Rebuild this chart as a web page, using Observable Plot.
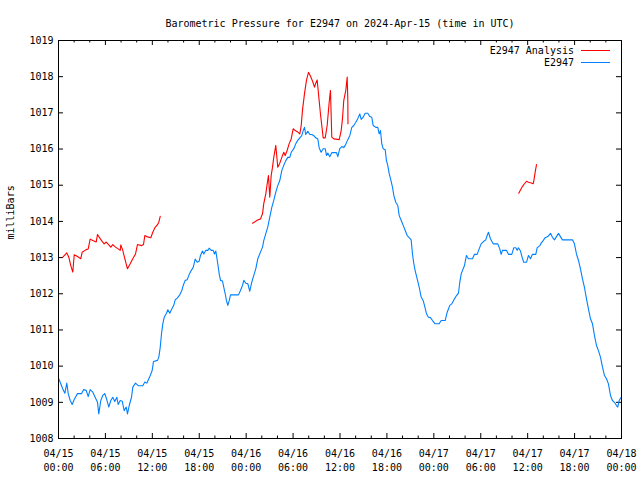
<!DOCTYPE html>
<html>
<head>
<meta charset="utf-8">
<script src="https://cdn.jsdelivr.net/npm/d3@7"></script>
<script src="https://cdn.jsdelivr.net/npm/@observablehq/plot@0.6"></script>
<style>
  html, body { margin: 0; padding: 0; background: #fff; }
  #chart svg { display: block; }
</style>
</head>
<body>
<div id="chart"></div>
<script>
const titleText = "Barometric Pressure for E2947 on 2024-Apr-15 (time in UTC)";
const yAxisLabel = "milliBars";
const seriesNames = ["E2947 Analysis", "E2947"];
const seriesColors = ["#ff0000", "#0080ff"];

// hours since 2024-04-15 00:00 UTC
const majorHours = [0, 6, 12, 18, 24, 30, 36, 42, 48, 54, 60, 66, 72];
const xTickLabels = [
  "04/15\n00:00", "04/15\n06:00", "04/15\n12:00", "04/15\n18:00",
  "04/16\n00:00", "04/16\n06:00", "04/16\n12:00", "04/16\n18:00",
  "04/17\n00:00", "04/17\n06:00", "04/17\n12:00", "04/17\n18:00",
  "04/18\n00:00"
];
const minorHours = [2,4,8,10,14,16,20,22,26,28,32,34,38,40,44,46,50,52,56,58,62,64,68,70];
const yTicks = [1008,1009,1010,1011,1012,1013,1014,1015,1016,1017,1018,1019];

// E2947 observed [hour, mbar]
const e2947 = [
[0.04,1009.65],[0.55,1009.37],[0.81,1009.25],[1.06,1009.53],[1.24,1009.24],[1.50,1009.05],[1.75,1008.94],[2.01,1009.08],[2.43,1009.24],[2.94,1009.24],
[3.20,1009.35],[3.54,1009.33],[3.80,1009.16],[4.05,1009.35],[4.39,1009.28],[4.73,1009.12],[4.99,1009.00],[5.15,1008.68],[5.41,1009.05],[5.66,1009.19],
[5.92,1009.24],[6.18,1009.07],[6.43,1008.87],[6.69,1009.05],[6.94,1009.14],[7.20,1009.02],[7.46,1009.14],[7.63,1008.94],[7.89,1009.05],[8.15,1009.03],
[8.40,1008.77],[8.66,1008.87],[8.82,1008.68],[9.08,1008.94],[9.34,1009.14],[9.50,1009.42],[9.85,1009.53],[10.19,1009.46],[10.78,1009.46],[11.04,1009.56],
[11.29,1009.53],[11.64,1009.69],[11.98,1009.88],[12.15,1010.13],[12.66,1010.16],[12.83,1010.25],[13.01,1010.52],[13.17,1010.89],[13.34,1011.17],[13.52,1011.35],
[13.81,1011.46],[13.98,1011.56],[14.23,1011.46],[14.49,1011.58],[14.74,1011.68],[14.92,1011.83],[15.18,1011.88],[15.51,1011.97],[15.77,1012.09],[15.95,1012.23],
[16.20,1012.37],[16.46,1012.39],[16.71,1012.53],[16.97,1012.64],[17.23,1012.73],[17.48,1012.96],[17.74,1012.87],[17.99,1012.90],[18.16,1013.06],[18.41,1013.18],
[18.58,1013.10],[18.84,1013.20],[19.09,1013.20],[19.27,1013.26],[19.53,1013.20],[19.78,1013.20],[19.95,1013.10],[20.12,1013.18],[20.37,1012.83],[20.55,1012.55],
[20.72,1012.37],[20.97,1012.35],[21.14,1012.18],[21.32,1012.00],[21.48,1011.81],[21.65,1011.68],[21.83,1011.81],[22.00,1011.97],[22.42,1011.97],[23.02,1011.97],
[23.27,1012.09],[23.53,1012.23],[23.70,1012.37],[23.95,1012.29],[24.21,1012.28],[24.46,1012.07],[24.72,1012.32],[24.97,1012.51],[25.23,1012.69],[25.49,1012.97],
[25.83,1013.15],[26.09,1013.29],[26.25,1013.47],[26.51,1013.66],[26.76,1013.84],[27.02,1014.12],[27.28,1014.39],[27.53,1014.58],[27.79,1014.81],[28.04,1014.99],
[28.30,1015.13],[28.56,1015.41],[28.81,1015.55],[29.07,1015.68],[29.32,1015.77],[29.58,1015.77],[29.76,1015.91],[30.09,1016.01],[30.35,1016.15],[30.60,1016.24],
[30.86,1016.31],[31.11,1016.37],[31.29,1016.51],[31.46,1016.60],[31.62,1016.40],[31.88,1016.49],[32.14,1016.40],[32.39,1016.40],[32.65,1016.37],[32.90,1016.31],
[33.16,1016.28],[33.34,1016.03],[33.59,1015.91],[33.85,1016.01],[34.11,1016.01],[34.27,1015.82],[34.44,1015.89],[34.69,1015.79],[34.95,1015.90],[35.55,1015.90],
[35.72,1015.79],[35.97,1016.01],[36.23,1016.07],[36.48,1016.04],[36.74,1016.13],[37.00,1016.26],[37.25,1016.37],[37.51,1016.60],[37.76,1016.65],[38.02,1016.74],
[38.27,1016.84],[38.53,1016.97],[38.71,1016.82],[38.96,1016.88],[39.22,1016.99],[39.55,1016.99],[39.81,1016.90],[40.06,1016.88],[40.24,1016.65],[40.58,1016.60],
[40.83,1016.60],[41.01,1016.42],[41.18,1016.51],[41.34,1016.15],[41.52,1016.01],[41.78,1015.98],[41.94,1015.68],[42.11,1015.55],[42.29,1015.32],[42.46,1015.18],
[42.71,1014.95],[42.88,1014.72],[43.13,1014.53],[43.39,1014.44],[43.57,1014.16],[43.82,1014.03],[44.08,1013.89],[44.34,1013.75],[44.59,1013.61],[44.85,1013.55],
[45.10,1013.49],[45.27,1013.10],[45.44,1012.83],[45.61,1012.64],[45.87,1012.41],[46.13,1012.18],[46.38,1011.91],[46.64,1011.81],[46.80,1011.68],[47.06,1011.45],
[47.31,1011.35],[47.57,1011.34],[47.83,1011.26],[48.17,1011.17],[48.68,1011.17],[48.94,1011.26],[49.45,1011.26],[49.71,1011.49],[50.04,1011.68],[50.29,1011.72],
[50.64,1011.86],[50.90,1011.95],[51.15,1012.02],[51.32,1012.32],[51.50,1012.55],[51.66,1012.64],[51.92,1012.78],[52.17,1013.06],[52.43,1012.97],[52.94,1012.97],
[53.20,1013.09],[53.54,1013.09],[53.80,1013.24],[54.05,1013.38],[54.39,1013.45],[54.64,1013.49],[54.82,1013.61],[54.99,1013.70],[55.24,1013.52],[55.59,1013.38],
[56.18,1013.38],[56.43,1013.24],[56.61,1013.09],[56.78,1013.20],[57.29,1013.20],[57.54,1013.09],[57.97,1013.09],[58.22,1013.27],[58.48,1013.27],[58.66,1013.20],
[58.82,1013.27],[59.08,1013.18],[59.34,1012.97],[59.50,1012.87],[59.85,1012.87],[60.10,1013.06],[60.36,1012.97],[60.61,1013.09],[61.04,1013.09],[61.21,1013.27],
[61.55,1013.33],[61.73,1013.40],[61.98,1013.47],[62.24,1013.55],[62.57,1013.58],[62.92,1013.67],[63.17,1013.56],[63.43,1013.49],[63.68,1013.58],[63.94,1013.67],
[64.19,1013.58],[64.45,1013.49],[65.73,1013.49],[65.98,1013.38],[66.24,1013.10],[66.50,1012.92],[66.75,1012.69],[67.01,1012.41],[67.26,1012.18],[67.52,1011.86],
[67.77,1011.58],[68.03,1011.31],[68.29,1011.17],[68.54,1010.85],[68.80,1010.57],[69.05,1010.43],[69.31,1010.25],[69.57,1009.97],[69.82,1009.74],[70.08,1009.65],
[70.33,1009.51],[70.59,1009.19],[70.84,1009.05],[71.10,1009.00],[71.36,1008.91],[71.52,1008.87],[71.70,1009.05],[71.96,1009.14]
];

// E2947 Analysis, three separate runs [hour, mbar]
const analysisRun1 = [
[0.55,1013.01],[1.06,1013.13],[1.32,1013.01],[1.57,1012.78],[1.83,1012.60],[2.01,1013.08],[2.43,1013.03],[2.85,1012.97],[3.03,1013.15],[3.54,1013.22],
[3.80,1013.24],[4.05,1013.51],[4.39,1013.47],[4.82,1013.43],[4.99,1013.64],[5.24,1013.55],[5.58,1013.45],[5.84,1013.38],[6.10,1013.43],[6.43,1013.35],
[6.69,1013.29],[6.94,1013.36],[7.29,1013.29],[7.63,1013.24],[7.89,1013.20],[7.97,1013.35],[8.22,1013.20],[8.48,1012.97],[8.82,1012.69],[9.17,1012.83],
[9.50,1012.97],[9.85,1013.10],[10.10,1013.36],[10.61,1013.33],[10.87,1013.36],[11.04,1013.61],[11.29,1013.58],[11.80,1013.55],[12.06,1013.70],[12.31,1013.82],
[12.66,1013.91],[12.83,1013.98],[13.01,1014.14]
];
const analysisRun2 = [
[24.81,1013.95],[25.41,1014.03],[25.83,1014.07],[26.09,1014.21],[26.25,1014.49],[26.51,1014.76],[26.69,1015.04],[26.85,1015.27],[27.02,1014.67],[27.20,1015.27],
[27.37,1015.50],[27.53,1015.77],[27.79,1016.10],[28.04,1015.50],[28.30,1015.61],[28.56,1015.77],[28.81,1015.91],[28.99,1015.82],[29.24,1015.96],[29.50,1016.15],
[29.76,1016.28],[30.01,1016.56],[30.27,1016.51],[30.60,1016.47],[30.86,1016.42],[31.04,1016.65],[31.20,1017.07],[31.46,1017.53],[31.71,1017.90],[31.97,1018.12],
[32.23,1018.01],[32.48,1017.88],[32.74,1017.71],[32.90,1017.82],[33.08,1017.91],[33.25,1017.53],[33.50,1016.97],[33.67,1016.65],[33.85,1016.31],[34.11,1016.31],
[34.36,1016.65],[34.62,1017.30],[34.78,1017.62],[34.95,1016.33],[35.21,1016.28],[35.90,1016.26],[36.15,1016.51],[36.32,1016.84],[36.48,1017.34],[36.74,1017.62],
[36.92,1017.99],[37.00,1017.34],[37.02,1016.70]
];
const analysisRun3 = [
[58.86,1014.78],[59.08,1014.87],[59.34,1014.97],[59.59,1015.04],[59.85,1015.11],[60.10,1015.08],[60.45,1015.06],[60.70,1015.04],[60.78,1015.11],[60.96,1015.36],
[61.13,1015.57]
];

const analysis = [analysisRun1, analysisRun2, analysisRun3]
  .flatMap((run, k) => run.map(([h, v]) => ({h, v, run: k})));
const observed = e2947.map(([h, v]) => ({h, v}));

function legendMark(index, scales, values, dimensions) {
  const W = dimensions ? dimensions.width : 640;
  const MR = dimensions ? dimensions.marginRight : 19;
  const MT = dimensions ? dimensions.marginTop : 40;
  const xr = W - MR;
  const g = d3.create("svg:g")
    .attr("font-family", "'DejaVu Sans Mono', monospace")
    .attr("font-size", 10)
    .attr("fill", "black");
  seriesNames.forEach((name, i) => {
    const y = MT + 10 + i * 12;
    g.append("text").attr("x", xr - 47).attr("y", y).attr("dy", "0.35em")
      .attr("text-anchor", "end").text(name);
    g.append("line").attr("x1", xr - 40).attr("x2", xr - 11)
      .attr("y1", y + 0.5).attr("y2", y + 0.5)
      .attr("stroke", seriesColors[i]).attr("stroke-width", 1);
  });
  return g.node();
}

const chart = Plot.plot({
  width: 640,
  height: 480,
  marginLeft: 58,
  marginRight: 19,
  marginTop: 40,
  marginBottom: 42,
  style: {fontFamily: "'DejaVu Sans Mono', monospace", fontSize: "10px", background: "#fff", color: "#000", overflow: "visible"},
  x: {domain: [0, 72]},
  y: {domain: [1008, 1019]},
  marks: [
    Plot.axisX({ticks: majorHours, tickSize: 0, tickPadding: 9, lineHeight: 1.4,
      tickFormat: d => xTickLabels[majorHours.indexOf(d)], label: null, fontSize: 10}),
    Plot.axisY({ticks: yTicks, tickSize: 0, tickPadding: 5, label: null, fontSize: 10,
      tickFormat: d => String(d)}),
    Plot.tickX(majorHours, {x: d => d, insetTop: 393, stroke: "#000"}),
    Plot.tickX(majorHours, {x: d => d, insetBottom: 393, stroke: "#000"}),
    Plot.tickX(minorHours, {x: d => d, insetTop: 395.5, stroke: "#000"}),
    Plot.tickX(minorHours, {x: d => d, insetBottom: 395.5, stroke: "#000"}),
    Plot.tickY(yTicks, {y: d => d, insetRight: 558, stroke: "#000"}),
    Plot.tickY(yTicks, {y: d => d, insetLeft: 558, stroke: "#000"}),
    Plot.line(observed, {x: "h", y: "v", stroke: seriesColors[1], strokeWidth: 1.1}),
    Plot.line(analysis, {x: "h", y: "v", z: "run", stroke: seriesColors[0], strokeWidth: 1.1}),
    Plot.frame({stroke: "#000"}),
    Plot.text([titleText], {frameAnchor: "top", dy: -21, fontSize: 10, fill: "#000"}),
    Plot.text([yAxisLabel], {frameAnchor: "left", dx: -48, rotate: -90, fontSize: 10, fill: "#000"}),
    legendMark
  ]
});
document.getElementById("chart").appendChild(chart);
</script>
</body>
</html>
